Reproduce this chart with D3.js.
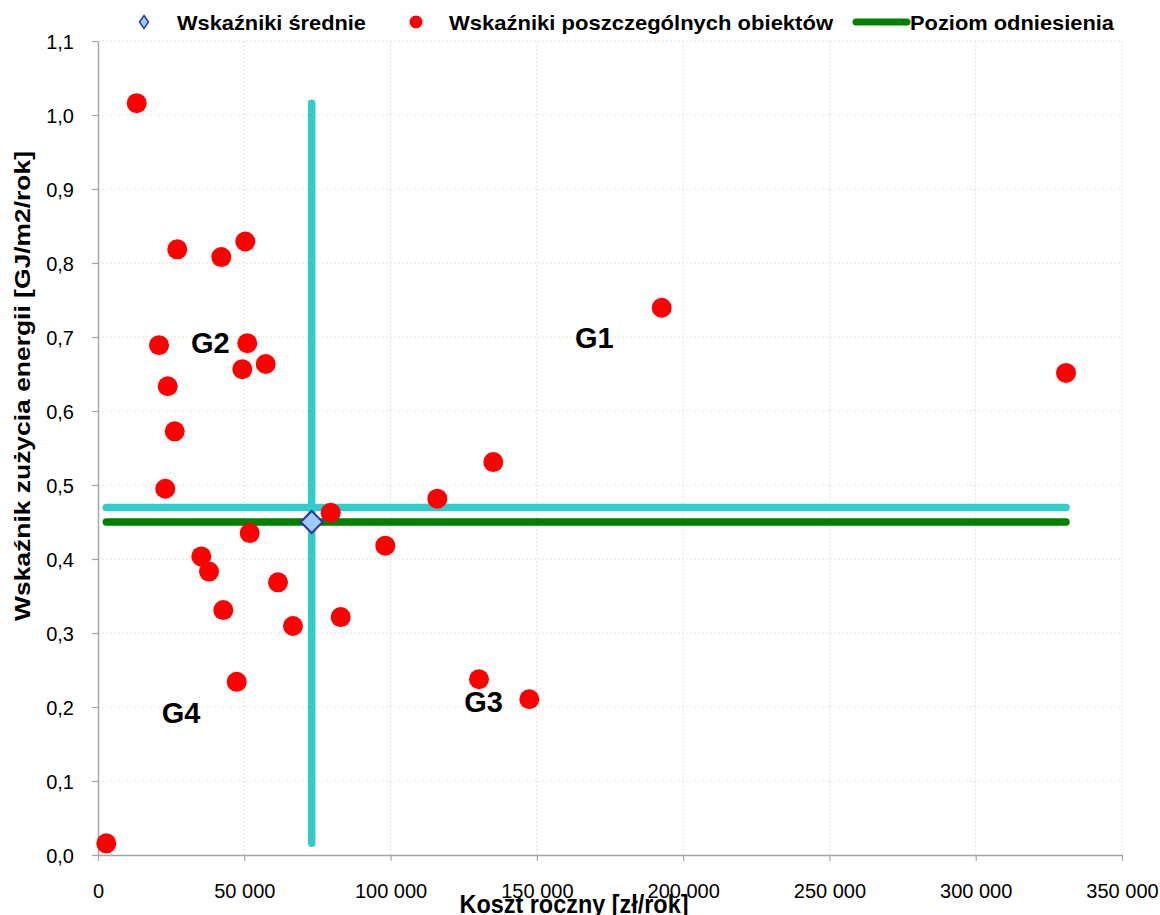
<!DOCTYPE html>
<html><head><meta charset="utf-8">
<script src="https://cdn.jsdelivr.net/npm/d3@7"></script>
<style>
html,body{margin:0;padding:0;background:#fff;}
svg{display:block;font-family:Arial,"Liberation Sans",sans-serif;}
</style></head>
<body><svg id="c" width="1160" height="915"></svg>
<script>
// ---- data ----
const costs = [13230,27100,42140,50350,20850,51030,49320,57320,23820,26220,23000,115970,79540,51850,35310,37940,61520,98200,42830,66650,82950,47410,2840,192670,135110,130220,147420,330860];
const indices = [1.016,0.8185,0.808,0.829,0.689,0.6915,0.6565,0.6635,0.6335,0.5725,0.495,0.4815,0.4625,0.435,0.4035,0.383,0.3685,0.418,0.331,0.3095,0.3215,0.234,0.0158,0.7395,0.531,0.2375,0.2105,0.6515];
const meanCost = [73040];
const meanIndex = [0.45];
const meanLineIndex = [0.4695];
const referenceLevel = [0.45];
const xTicks = [0,50000,100000,150000,200000,250000,300000,350000];
const yTicks = [0,0.1,0.2,0.3,0.4,0.5,0.6,0.7,0.8,0.9,1.0,1.1];
const groupLabels = ["G1","G2","G3","G4"];
const groupX = [163000,31800,125200,21800];
const groupY = [0.685,0.678,0.193,0.178];
const legendLabels = ["Wskaźniki średnie","Wskaźniki poszczególnych obiektów","Poziom odniesienia"];
const xTitle = "Koszt roczny [zł/rok]";
const yTitle = "Wskaźnik zużycia energii [GJ/m2/rok]";

// ---- setup ----
const svg = d3.select("#c");
const L = 98, R = 1122, T = 41, B = 855;
const x = d3.scaleLinear().domain([0,350000]).range([L,R]);
const y = d3.scaleLinear().domain([0,1.1]).range([B,T]);
const loc = d3.formatLocale({decimal:",",thousands:"\u00a0",grouping:[3],currency:["",""]});
const fx = loc.format(",d");
const fy = loc.format(".1f");

// gridlines
const grid = svg.append("g");
grid.selectAll("line.v").data(xTicks.slice(1)).join("line")
  .attr("x1",d=>x(d)).attr("x2",d=>x(d)).attr("y1",T).attr("y2",B)
  .attr("stroke","#e4e4d4").attr("stroke-width",1).attr("stroke-dasharray","2,2");
grid.selectAll("line.h").data(yTicks.slice(1)).join("line")
  .attr("x1",L).attr("x2",R).attr("y1",d=>y(d)).attr("y2",d=>y(d))
  .attr("stroke","#e4e4d4").attr("stroke-width",1).attr("stroke-dasharray","2,2");

// axes
const xAxis = svg.append("g").attr("transform",`translate(0,${B})`)
  .call(d3.axisBottom(x).tickValues(xTicks).tickFormat(fx).tickSize(6).tickSizeOuter(0));
const yAxis = svg.append("g").attr("transform",`translate(${L},0)`)
  .call(d3.axisLeft(y).tickValues(yTicks).tickFormat(fy).tickSize(6).tickPadding(18).tickSizeOuter(0));
[xAxis,yAxis].forEach(a=>{
  a.select(".domain").attr("stroke","#a6a6a6").attr("stroke-width",1.5);
  a.selectAll(".tick line").attr("stroke","#a6a6a6").attr("stroke-width",1.2);
  a.selectAll("text").attr("font-size",20).attr("fill","#000").attr("font-family",'Arial,"Liberation Sans",sans-serif');
});
yAxis.selectAll("text").attr("dy","0.35em");
xAxis.selectAll("text").attr("y",43).attr("dy",0);

// reference & mean lines
const lines = svg.append("g").attr("fill","none").attr("stroke-linecap","round");
const xMin = d3.min(costs), xMax = d3.max(costs), yMin = d3.min(indices), yMax = d3.max(indices);
lines.append("line").attr("x1",x(xMin)).attr("x2",x(xMax)).attr("y1",y(referenceLevel[0])).attr("y2",y(referenceLevel[0]))
  .attr("stroke","#008000").attr("stroke-width",7.5);
lines.append("line").attr("x1",x(xMin)).attr("x2",x(xMax)).attr("y1",y(meanLineIndex[0])).attr("y2",y(meanLineIndex[0]))
  .attr("stroke","#33CCCC").attr("stroke-width",7.5);
lines.append("line").attr("x1",x(meanCost[0])).attr("x2",x(meanCost[0])).attr("y1",y(yMin)).attr("y2",y(yMax))
  .attr("stroke","#33CCCC").attr("stroke-width",7.5);

// points
svg.append("g").selectAll("circle").data(costs.map((c,i)=>[c,indices[i]])).join("circle")
  .attr("cx",d=>x(d[0])).attr("cy",d=>y(d[1])).attr("r",10).attr("fill","#FF0000");

// mean diamond
const dia = (cx,cy,w,h)=>`M${cx},${cy-h}L${cx+w},${cy}L${cx},${cy+h}L${cx-w},${cy}Z`;
svg.append("path").attr("d",dia(x(meanCost[0]),y(meanIndex[0]),11,11))
  .attr("fill","#99CCFF").attr("stroke","#333399").attr("stroke-width",2);

// group labels
svg.append("g").selectAll("text").data(groupLabels).join("text")
  .attr("x",(d,i)=>x(groupX[i])).attr("y",(d,i)=>y(groupY[i]))
  .attr("font-size",29).attr("font-weight","bold").attr("fill","#000").text(d=>d);

// axis titles
svg.append("text").attr("x",574).attr("y",913).attr("text-anchor","middle")
  .attr("font-size",25).attr("font-weight","bold").attr("textLength",229).attr("lengthAdjust","spacingAndGlyphs").text(xTitle);
svg.append("text").attr("transform","translate(30,386) rotate(-90)").attr("text-anchor","middle")
  .attr("font-size",22).attr("font-weight","bold").attr("textLength",470).attr("lengthAdjust","spacingAndGlyphs").text(yTitle);

// legend
const lg = svg.append("g");
lg.append("path").attr("d",dia(144,22,4.5,6.5)).attr("fill","#99CCFF").attr("stroke","#333399").attr("stroke-width",1.5);
lg.append("text").attr("x",177).attr("y",30).attr("font-size",21).attr("font-weight","bold").attr("textLength",189).attr("lengthAdjust","spacingAndGlyphs").text(legendLabels[0]);
lg.append("circle").attr("cx",416).attr("cy",22).attr("r",6.5).attr("fill","#FF0000");
lg.append("text").attr("x",449).attr("y",30).attr("font-size",21).attr("font-weight","bold").attr("textLength",384).attr("lengthAdjust","spacingAndGlyphs").text(legendLabels[1]);
lg.append("line").attr("x1",856).attr("x2",907).attr("y1",22).attr("y2",22).attr("stroke","#008000").attr("stroke-width",7).attr("stroke-linecap","round");
lg.append("text").attr("x",910).attr("y",30).attr("font-size",21).attr("font-weight","bold").attr("textLength",204).attr("lengthAdjust","spacingAndGlyphs").text(legendLabels[2]);
</script></body></html>
